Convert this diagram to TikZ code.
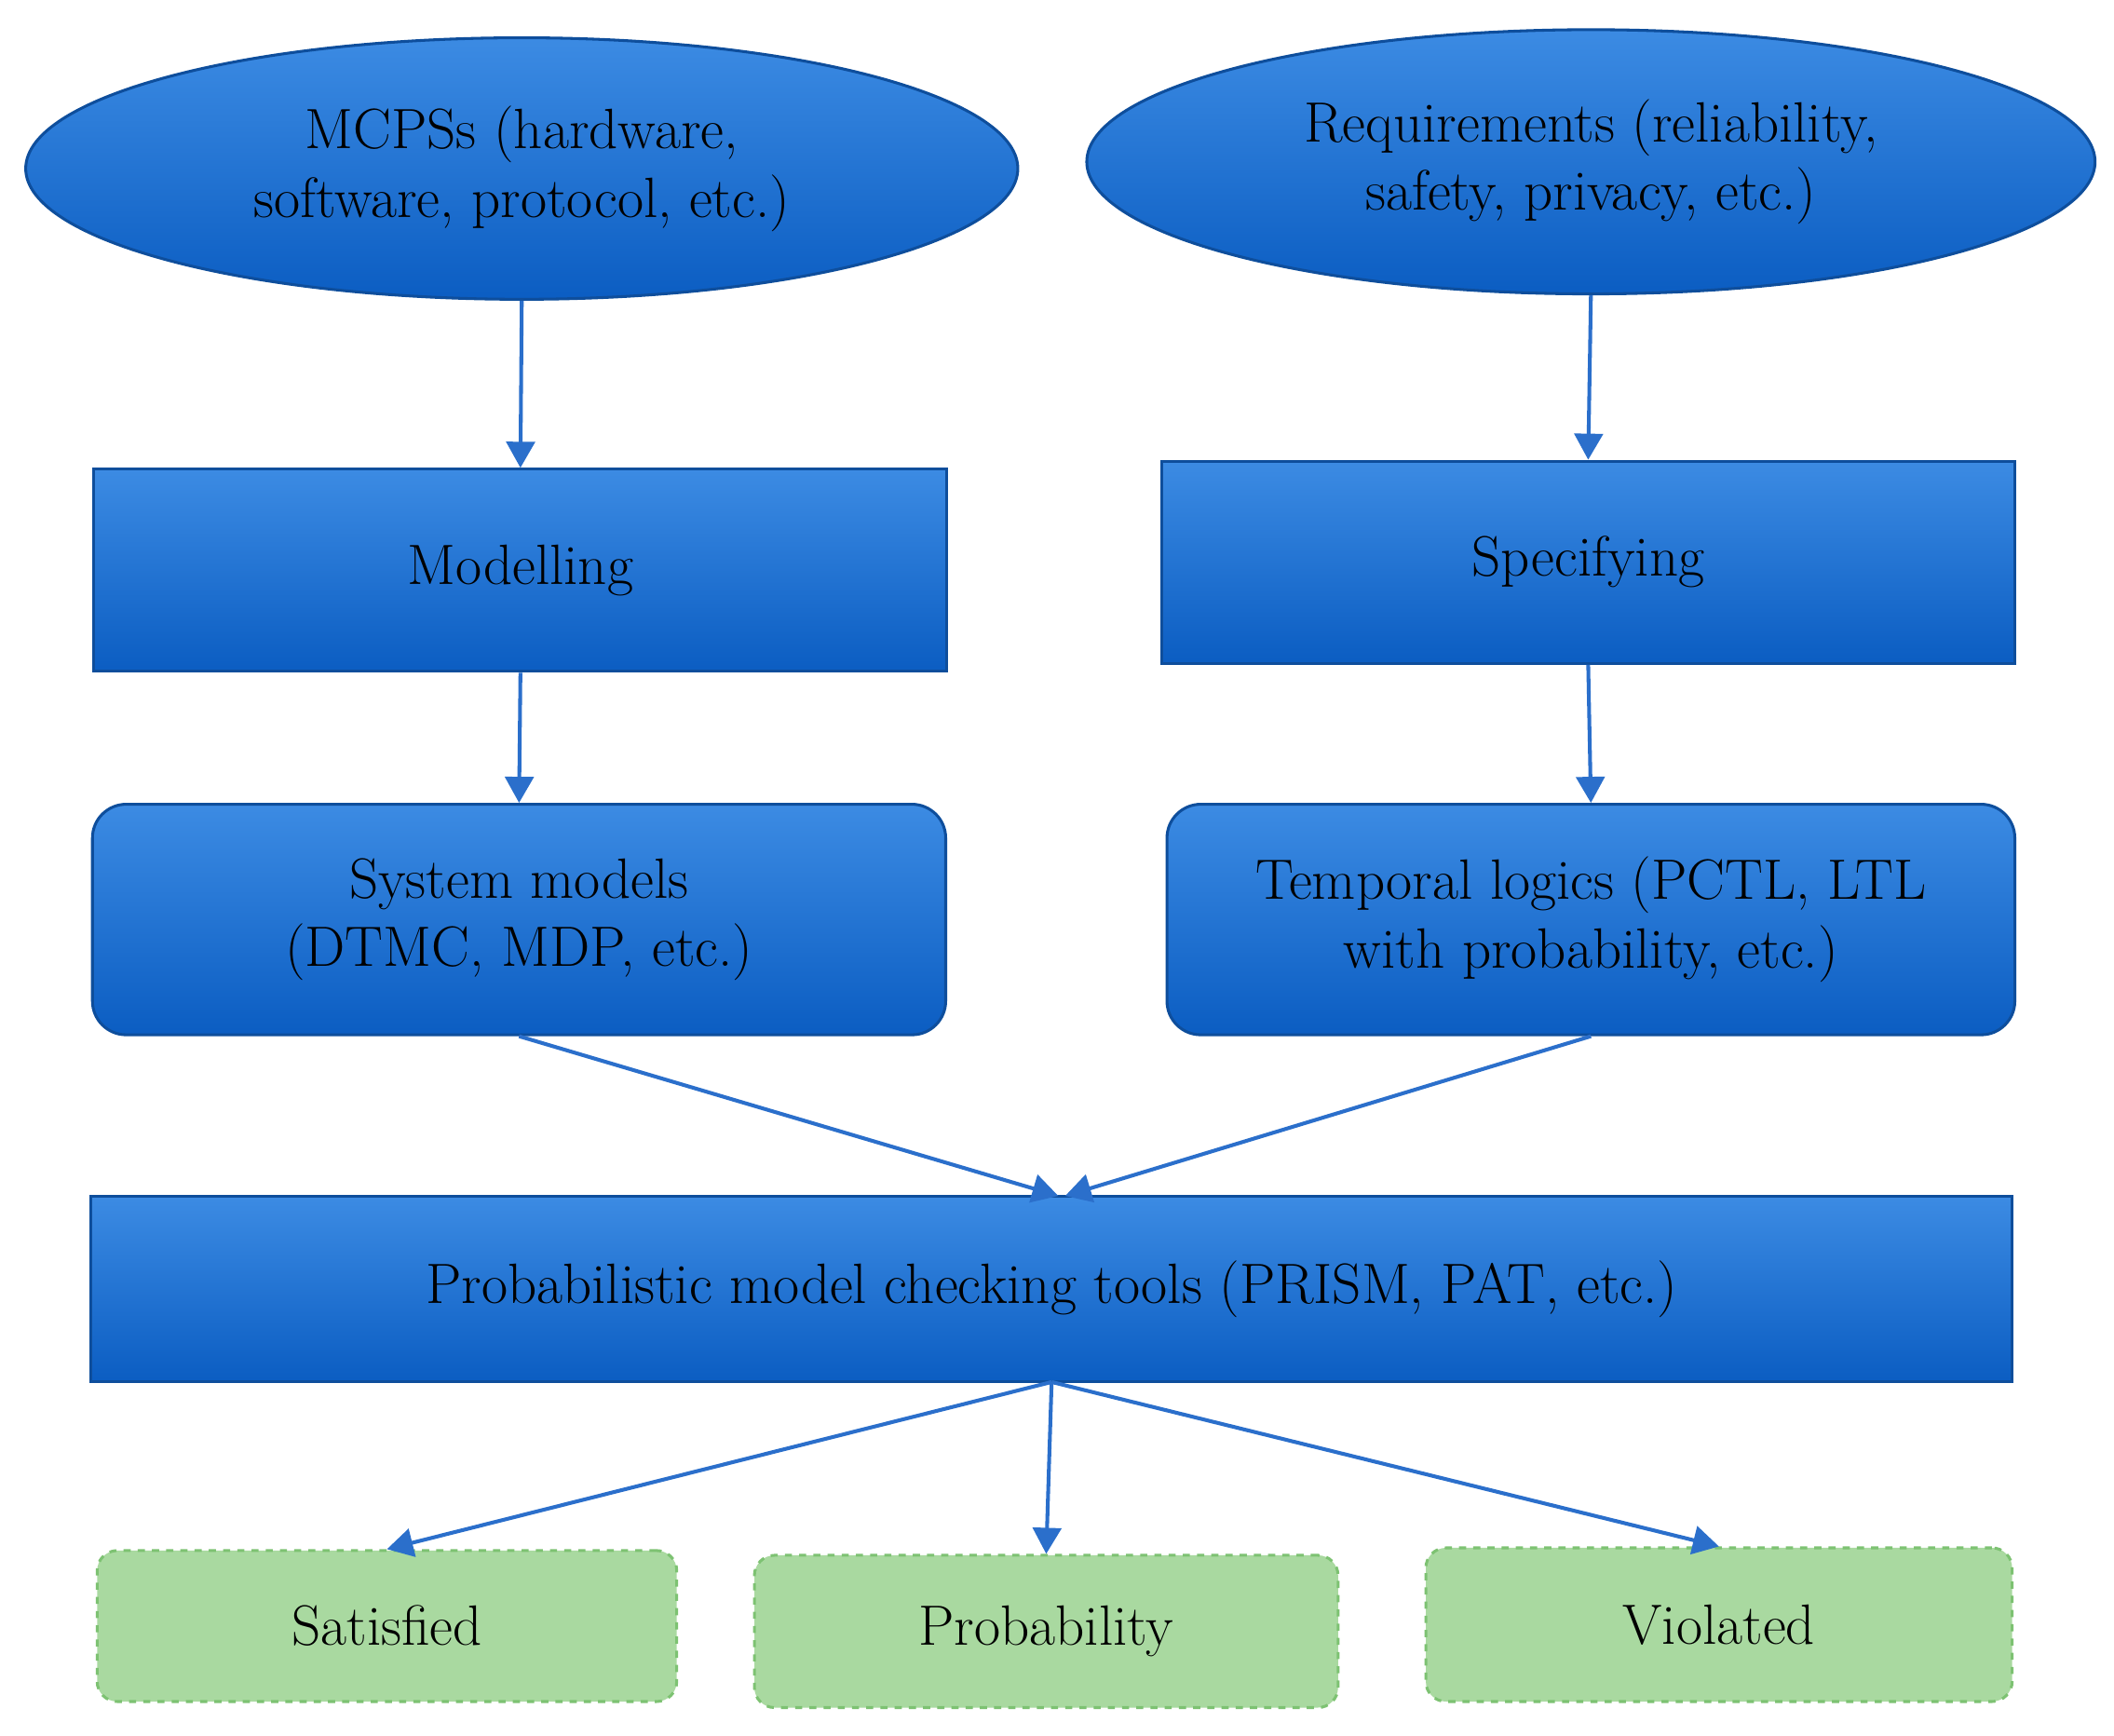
\documentclass[tikz,border=0pt]{standalone}
\usetikzlibrary{shapes.geometric,arrows.meta}
\definecolor{bfill}{HTML}{1B6FD3}
\definecolor{btop}{HTML}{3C8BE3}
\definecolor{bbot}{HTML}{0B5DC2}
\definecolor{bdraw}{HTML}{0E4E9C}
\definecolor{arr}{HTML}{2B6FCB}
\definecolor{gfill}{HTML}{A9D9A0}
\definecolor{gdraw}{HTML}{7DC272}
\begin{document}
\begin{tikzpicture}[x=0.02cm,y=-0.02cm,
 txt/.style={font=\fontsize{24}{29}\selectfont,align=center,text=black},
 blue/.style={txt,top color=btop,bottom color=bbot,draw=bdraw,line width=1.2pt,inner sep=0pt},
 ell/.style={blue,ellipse},
 rect/.style={blue,rectangle},
 rnd/.style={blue,rectangle,rounded corners=0.5cm},
 grn/.style={txt,rectangle,rounded corners=0.3cm,fill=gfill,draw=gdraw,dashed,line width=1.2pt,inner sep=0pt},
 a/.style={draw=arr,line width=1.6pt,-{Triangle[width=12pt,length=11pt]}}]
\useasboundingbox (0,0) rectangle (1568,1287);
\node[ell,minimum width=736\pgflinewidth*0+14.72cm,minimum height=3.88cm] (e1) at (387,125) {MCPSs (hardware,\\software, protocol, etc.)};
\node[ell,minimum width=14.96cm,minimum height=3.92cm] (e2) at (1180,120) {Requirements (reliability,\\safety, privacy, etc.)};
\node[rect,minimum width=12.66cm,minimum height=3cm] (m) at (386,423) {Modelling};
\node[rect,minimum width=12.66cm,minimum height=3cm] (s) at (1178,417) {Specifying};
\node[rnd,minimum width=12.66cm,minimum height=3.42cm] (sm) at (385,682) {System models\\(DTMC, MDP, etc.)};
\node[rnd,minimum width=12.58cm,minimum height=3.42cm] (tl) at (1180,682) {Temporal logics (PCTL, LTL\\with probability, etc.)};
\node[rect,minimum width=28.5cm,minimum height=2.76cm] (p) at (780,956) {Probabilistic model checking tools (PRISM, PAT, etc.)};
\node[grn,minimum width=8.6cm,minimum height=2.24cm] (sat) at (287,1206) {Satisfied};
\node[grn,minimum width=8.66cm,minimum height=2.26cm] (pr) at (776,1210) {Probability};
\node[grn,minimum width=8.7cm,minimum height=2.28cm] (v) at (1275,1205) {Violated};
\coordinate (pin1) at (785,887);
\coordinate (pin2) at (790,887);
\coordinate (pout) at (780,1025);
\draw[a] (e1.south) -- (m.north);
\draw[a] (e2.south) -- (s.north);
\draw[a] (m.south) -- (sm.north);
\draw[a] (s.south) -- (tl.north);
\draw[a] (sm.south) -- (pin1);
\draw[a] (tl.south) -- (pin2);
\draw[a] (pout) -- (sat.north);
\draw[a] (pout) -- (pr.north);
\draw[a] (pout) -- (v.north);
\end{tikzpicture}
\end{document}
